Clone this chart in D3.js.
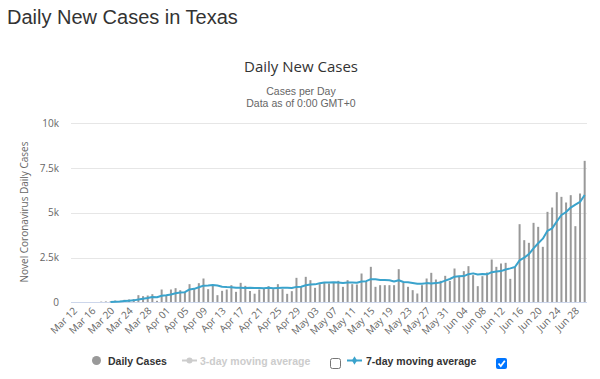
<!DOCTYPE html>
<html><head><meta charset="utf-8">
<script src="https://cdn.jsdelivr.net/npm/d3@7/dist/d3.min.js"></script>
<style>body{margin:0;background:#fff} svg{display:block}</style>
</head><body><svg id="c" width="600" height="379"></svg>
<script>
const categories = [
"Mar 12","Mar 13","Mar 14","Mar 15","Mar 16","Mar 17","Mar 18","Mar 19","Mar 20","Mar 21","Mar 22","Mar 23","Mar 24","Mar 25","Mar 26","Mar 27","Mar 28","Mar 29","Mar 30","Mar 31",
"Apr 01","Apr 02","Apr 03","Apr 04","Apr 05","Apr 06","Apr 07","Apr 08","Apr 09","Apr 10","Apr 11","Apr 12","Apr 13","Apr 14","Apr 15","Apr 16","Apr 17","Apr 18","Apr 19","Apr 20","Apr 21","Apr 22","Apr 23","Apr 24","Apr 25","Apr 26","Apr 27","Apr 28","Apr 29","Apr 30",
"May 01","May 02","May 03","May 04","May 05","May 06","May 07","May 08","May 09","May 10","May 11","May 12","May 13","May 14","May 15","May 16","May 17","May 18","May 19","May 20","May 21","May 22","May 23","May 24","May 25","May 26","May 27","May 28","May 29","May 30","May 31",
"Jun 01","Jun 02","Jun 03","Jun 04","Jun 05","Jun 06","Jun 07","Jun 08","Jun 09","Jun 10","Jun 11","Jun 12","Jun 13","Jun 14","Jun 15","Jun 16","Jun 17","Jun 18","Jun 19","Jun 20","Jun 21","Jun 22","Jun 23","Jun 24","Jun 25","Jun 26","Jun 27","Jun 28","Jun 29","Jun 30"];

const dailyCases = [
5,10,18,15,14,20,50,60,60,110,90,150,170,190,409,353,390,464,93,724,
408,724,798,687,594,1021,780,1077,1337,743,965,408,650,724,965,594,1095,928,640,490,724,780,910,743,1021,743,483,631,1374,873,
1430,1244,817,1021,1114,1058,1114,1207,873,1244,1021,1003,1615,1151,1987,873,965,965,965,965,1857,1095,873,687,501,965,1337,1653,1281,1207,1486,
1200,1894,1486,1745,2024,1523,910,1467,1671,2395,1987,2172,2210,1318,1987,4363,3472,3324,4438,4215,3101,5050,5292,6146,5886,5571,5979,4252,6072,7892];

const movingAvg7 = [
null,null,null,null,null,null,null,null,34,47,58,77,99,119,168,210,250,304,296,375,
406,451,514,557,575,730,760,850,940,950,980,950,880,860,850,820,815,810,820,810,805,800,815,800,805,815,815,810,870,880,
960,1000,1010,1070,1120,1110,1130,1110,1080,1110,1110,1100,1170,1190,1300,1290,1260,1250,1240,1170,1240,1140,1130,1090,1040,1040,1080,1060,1080,1120,1220,
1310,1437,1458,1471,1577,1623,1560,1590,1570,1690,1730,1750,1840,1900,1975,2347,2501,2692,3016,3302,3557,3995,4127,4509,4875,5037,5289,5454,5600,5990];

const yTicks = [0, 2500, 5000, 7500, 10000];
const yTickLabels = ["0", "2.5k", "5k", "7.5k", "10k"];
const xLabelEvery = 4;

const svg = d3.select("#c");
svg.append("rect").attr("width",600).attr("height",379).attr("fill","#fff");

const x = d3.scaleBand().domain(categories).range([71, 587]).padding(0);
const y = d3.scaleLinear().domain([0, 10000]).range([302.5, 123]);
const cx = c => x(c) + x.bandwidth()/2;
const FONT = "'Open Sans', 'DejaVu Sans', sans-serif";
const LF = "'Liberation Sans', Arial, sans-serif";

// page title
svg.append("text").attr("x",7).attr("y",24).attr("fill","#333")
  .style("font-family",LF).style("font-size","20px")
  .text("Daily New Cases in Texas");

// chart title/subtitle
svg.append("text").attr("x",301).attr("y",72).attr("text-anchor","middle").attr("fill","#333")
  .style("font-family",FONT).style("font-size","15px").text("Daily New Cases");
svg.append("text").attr("x",301).attr("y",94.5).attr("text-anchor","middle").attr("fill","#666")
  .style("font-family",LF).style("font-size","10.5px").text("Cases per Day");
svg.append("text").attr("x",301).attr("y",106.8).attr("text-anchor","middle").attr("fill","#666")
  .style("font-family",LF).style("font-size","10.5px").text("Data as of 0:00 GMT+0");

// grid
const yAxis = d3.axisLeft(y).tickValues(yTicks).tickFormat((d,i)=>yTickLabels[i]).tickSize(0).tickPadding(0);
const gy = svg.append("g").attr("transform","translate(59,0)").call(yAxis);
gy.select(".domain").remove();
gy.selectAll("text").attr("fill","#666").style("font-family",FONT).style("font-size","10px").attr("dy","0.32em");
svg.append("g").selectAll("line").data(yTicks.slice(1)).join("line")
  .attr("x1",71).attr("x2",587)
  .attr("y1",d=>Math.round(y(d))+0.5).attr("y2",d=>Math.round(y(d))+0.5)
  .attr("stroke","#e6e6e6").attr("stroke-width",1);

// y title
svg.append("text").attr("transform","translate(28,212) rotate(-90)").attr("text-anchor","middle")
  .attr("fill","#666").style("font-family",FONT).style("font-size","10px")
  .text("Novel Coronavirus Daily Cases");

// bars
svg.append("g").selectAll("rect").data(categories).join("rect")
  .attr("x",(c)=>cx(c)-1).attr("width",2)
  .attr("y",(c,i)=>y(dailyCases[i])).attr("height",(c,i)=>y(0)-y(dailyCases[i]))
  .attr("fill","#999");

// x axis line
svg.append("line").attr("x1",71).attr("x2",587).attr("y1",302.5).attr("y2",302.5)
  .attr("stroke","#ccd6eb").attr("stroke-width",1);

// 7-day line
const line = d3.line().defined((d,i)=>movingAvg7[i]!=null)
  .x(c=>cx(c)).y((c,i)=>y(movingAvg7[i]));
svg.append("path").datum(categories).attr("d",line).attr("fill","none")
  .attr("stroke","#3aa3cc").attr("stroke-width",2).attr("stroke-linejoin","round");

// x labels
svg.append("g").selectAll("text").data(categories.filter((c,i)=>i%xLabelEvery===0)).join("text")
  .attr("transform",c=>`translate(${cx(c)+2},309) rotate(-45)`)
  .attr("text-anchor","end").attr("dy","0.35em").attr("fill","#666")
  .style("font-family",FONT).style("font-size","10px").text(c=>c);

// legend
const lg = svg.append("g");
lg.append("circle").attr("cx",96.5).attr("cy",360.5).attr("r",4.5).attr("fill","#999");
lg.append("text").attr("x",108).attr("y",364.5).attr("fill","#333").style("font-family",LF)
  .style("font-size","10.5px").style("font-weight","bold").text("Daily Cases");
lg.append("line").attr("x1",182).attr("x2",197).attr("y1",360.5).attr("y2",360.5).attr("stroke","#ccc").attr("stroke-width",2);
lg.append("circle").attr("cx",189.5).attr("cy",360.5).attr("r",3).attr("fill","#ccc");
lg.append("text").attr("x",200).attr("y",364.5).attr("fill","#ccc").style("font-family",LF)
  .style("font-size","10.5px").style("font-weight","bold").text("3-day moving average");
lg.append("rect").attr("x",330.5).attr("y",358.5).attr("width",10).attr("height",10).attr("rx",2)
  .attr("fill","#fff").attr("stroke","#767676").attr("stroke-width",1);
lg.append("line").attr("x1",347).attr("x2",362).attr("y1",360.5).attr("y2",360.5).attr("stroke","#3aa3cc").attr("stroke-width",2);
lg.append("path").attr("d",d3.symbol(d3.symbolDiamond,22)()).attr("transform","translate(354.5,360.5)").attr("fill","#3aa3cc");
lg.append("text").attr("x",366).attr("y",364.5).attr("fill","#333").style("font-family",LF)
  .style("font-size","10.5px").style("font-weight","bold").text("7-day moving average");
lg.append("rect").attr("x",496).attr("y",358).attr("width",11).attr("height",11).attr("rx",2)
  .attr("fill","#0075ff");
lg.append("path").attr("d","M498.5,363.5 L500.8,366 L504.8,360.8").attr("fill","none")
  .attr("stroke","#fff").attr("stroke-width",1.8);
</script></body></html>
